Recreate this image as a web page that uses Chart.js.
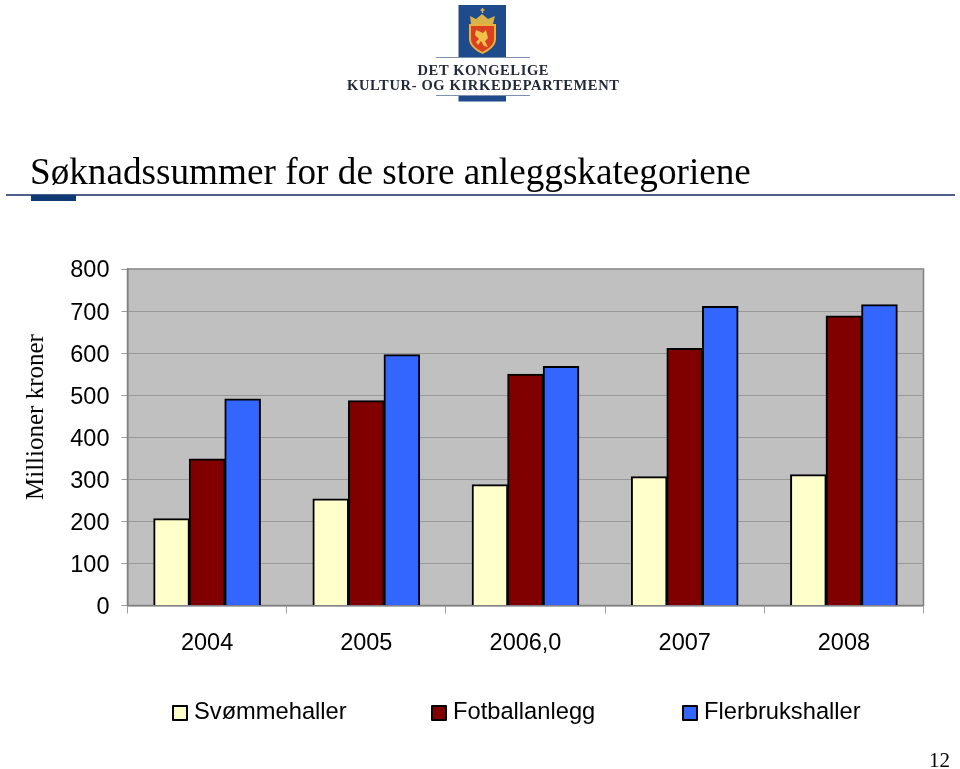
<!DOCTYPE html>
<html>
<head>
<meta charset="utf-8">
<style>
  html, body { margin: 0; padding: 0; background: #fff; }
  #slide { position: relative; width: 960px; height: 769px; overflow: hidden; }
  #scoreChart { position: absolute; left: 0; top: 0; }
  #logo { position: absolute; left: 0; top: 0; }
  .serif { position: absolute; font-family: "Liberation Serif", serif; color: #000; white-space: nowrap; }
  #title { left: 30px; top: 151px; font-size: 37.2px; line-height: 42px; }
  #yTitle { left: 35px; top: 417px; font-size: 25px; line-height: 26px; transform: translate(-50%, -50%) rotate(-90deg); }
  #pageNo { left: 929px; top: 748px; font-size: 21px; line-height: 24px; }
  #rule { position: absolute; left: 6px; top: 194px; width: 949px; height: 1.5px; background: #4f5f88; }
  #accent { position: absolute; left: 31px; top: 195px; width: 45px; height: 5.5px; background: #0f3a73; }
  .legendItem { position: absolute; top: 697px; height: 28px; line-height: 28px; font-family: "Liberation Sans", Arial, sans-serif; font-size: 23.7px; color: #000; white-space: nowrap; }
  .legendItem i { position: absolute; left: 0; top: 8px; width: 12px; height: 12px; border: 2px solid #000; border-radius: 1px; }
  .legendItem span { position: absolute; left: 22px; top: 0; }
</style>
</head>
<body>
<div id="slide">
  <canvas id="scoreChart" width="960" height="769"></canvas>
  <svg id="logo" width="960" height="110" viewBox="0 0 960 110">
    <rect x="458.500" y="5" width="47.500" height="52" fill="#1f4a8c"/>
    <rect x="458.500" y="96" width="47.500" height="5.500" fill="#1f4a8c"/>
    <line x1="436" y1="57.500" x2="530" y2="57.500" stroke="#7f8fae" stroke-width="1"/>
    <line x1="436" y1="95.500" x2="530" y2="95.500" stroke="#7f8fae" stroke-width="1"/>
    <path d="M482.500 8v5M480.500 10h4" stroke="#d9b24a" stroke-width="1.400"/>
    <path d="M471 24l-1-8 6 3 6-5 6 5 7-3-2 8z" fill="#d9b24a"/>
    <path d="M469 24h27v15c0 7-7 12-13.500 15-6.500-3-13.500-8-13.500-15z" fill="#e8b23c"/>
    <path d="M471 26h23v13c0 6-6 10-11.500 13-5.500-3-11.500-7-11.500-13z" fill="#d8401f"/>
    <path d="M476 30l7 3 3-3 2 8-3 3 3 6-4-1-3-5-3 4-2-3 3-3-4-4z" fill="#f0c04a"/>
    <text x="483" y="75" text-anchor="middle" font-family="Liberation Serif" font-weight="bold" font-size="14.500" textLength="131" lengthAdjust="spacing" fill="#222a3a">DET KONGELIGE</text>
    <text x="483" y="89.500" text-anchor="middle" font-family="Liberation Serif" font-weight="bold" font-size="14.500" textLength="272" lengthAdjust="spacing" fill="#222a3a">KULTUR- OG KIRKEDEPARTEMENT</text>
  </svg>
  <div id="title" class="serif">Søknadssummer for de store anleggskategoriene</div>
  <div id="rule"></div>
  <div id="accent"></div>
  <div id="yTitle" class="serif">Millioner kroner</div>
  <div id="pageNo" class="serif">12</div>
</div>

<script src="https://cdn.jsdelivr.net/npm/chart.js@4/dist/chart.umd.min.js"></script>
<script>
const years = ["2004", "2005", "2006,0", "2007", "2008"];
const svommehaller = [206, 253, 287, 306, 311];
const fotballanlegg = [348, 487, 550, 611, 688];
const flerbrukshaller = [491, 596, 568, 711, 715];
const legendLeft = [172, 431, 682];

const sans = "'Liberation Sans', Arial, sans-serif";

// grey plot background with its frame
const plotBackdrop = {
  id: "plotBackdrop",
  beforeDraw(chart) {
    const { ctx, chartArea: a } = chart;
    ctx.save();
    ctx.fillStyle = "#c0c0c0";
    ctx.fillRect(a.left, a.top, a.width, a.height);
    ctx.strokeStyle = "#808080";
    ctx.lineWidth = 1.5;
    ctx.strokeRect(a.left, a.top, a.width, a.height);
    ctx.restore();
  }
};

function barSet(label, data, color) {
  return {
    label,
    data,
    backgroundColor: color,
    borderColor: "#000000",
    borderWidth: 2,
    inflateAmount: 0.5,
    barPercentage: 1,
    categoryPercentage: 0.67
  };
}

const chart = new Chart(document.getElementById("scoreChart"), {
  type: "bar",
  data: {
    labels: years,
    datasets: [
      barSet("Svømmehaller", svommehaller, "#ffffcc"),
      barSet("Fotballanlegg", fotballanlegg, "#800000"),
      barSet("Flerbrukshaller", flerbrukshaller, "#3366ff")
    ]
  },
  plugins: [plotBackdrop],
  options: {
    responsive: false,
    animation: false,
    layout: { padding: { top: 269, right: 36.5, bottom: 103.5, left: 0 } },
    plugins: {
      title: { display: false },
      tooltip: { enabled: false },
      legend: { display: false }
    },
    scales: {
      x: {
        afterFit(scale) { scale.height = 60; },
        grid: { drawOnChartArea: false, color: "#a0a0a0", tickLength: 8, lineWidth: 1 },
        border: { color: "#808080", width: 1.5 },
        ticks: { color: "#000000", font: { family: sans, size: 23.5 }, padding: 16, maxRotation: 0 }
      },
      y: {
        min: 0,
        max: 800,
        afterFit(scale) { scale.width = 127.5; },
        grid: { color: "#999999", lineWidth: 1, tickLength: 6 },
        border: { color: "#808080", width: 1.5 },
        ticks: { stepSize: 100, color: "#000000", font: { family: sans, size: 23.5 }, padding: 12, labelOffset: 2 }
      }
    }
  }
});

// the legend items sit at fixed places under the chart
chart.data.datasets.forEach((dataset, index) => {
  const item = document.createElement("div");
  item.className = "legendItem";
  item.style.left = `${legendLeft[index]}px`;
  const box = document.createElement("i");
  box.style.background = dataset.backgroundColor;
  const text = document.createElement("span");
  text.textContent = dataset.label;
  item.append(box, text);
  document.getElementById("slide").append(item);
});
</script>
</body>
</html>
